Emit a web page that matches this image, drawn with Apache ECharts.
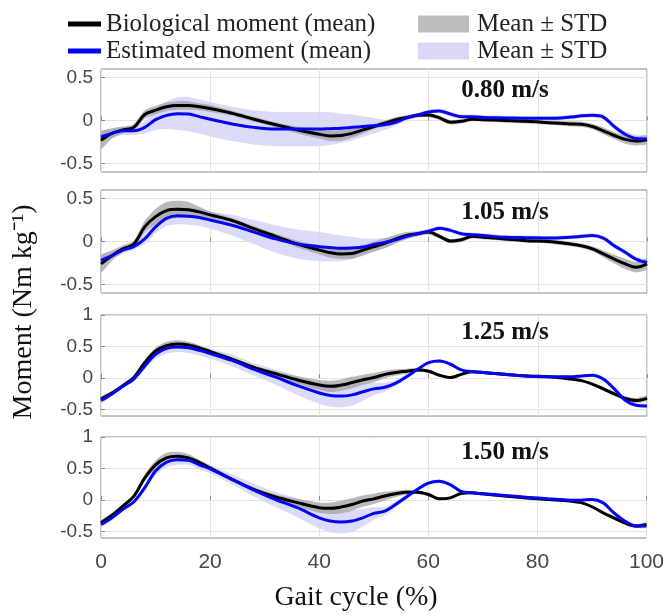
<!DOCTYPE html>
<html>
<head>
<meta charset="utf-8">
<script src="https://cdn.jsdelivr.net/npm/echarts@6/dist/echarts.min.js"></script>
<style>html,body{margin:0;padding:0;background:#fff;}#c{width:667px;height:616px;}</style>
</head>
<body>
<div id="c"></div>
<script>
// Gait cycle (%) sample positions
const xs = [0,2,4,6,8,10,12,14,16,18,20,24,28,32,36,40,42,44,46,48,50,52,54,56,58,60,62,64,66,68,70,74,78,82,86,88,90,92,94,96,98,100];

const speeds = ['0.80 m/s', '1.05 m/s', '1.25 m/s', '1.50 m/s'];
const xTicks = [0, 20, 40, 60, 80, 100];
const yTicksSmall = [-0.5, 0, 0.5];
const yTicksLarge = [-0.5, 0, 0.5, 1];

// 0.80 m/s
const bio1 = [-0.23,-0.15,-0.11,-0.08,0.07,0.12,0.16,0.175,0.175,0.16,0.14,0.085,0.015,-0.05,-0.11,-0.16,-0.18,-0.175,-0.15,-0.11,-0.07,-0.03,0.01,0.035,0.06,0.065,0.03,-0.02,-0.01,0.015,0.01,0,-0.01,-0.025,-0.04,-0.045,-0.07,-0.12,-0.175,-0.22,-0.24,-0.225];
const est1 = [-0.19,-0.15,-0.12,-0.12,-0.08,0.01,0.06,0.08,0.075,0.045,0.015,-0.04,-0.08,-0.10,-0.10,-0.10,-0.095,-0.09,-0.08,-0.07,-0.06,-0.05,-0.02,0.03,0.065,0.10,0.11,0.075,0.045,0.045,0.035,0.03,0.025,0.025,0.04,0.055,0.06,0.04,-0.07,-0.16,-0.21,-0.215];
const bioStd1 = [0.10,0.06,0.04,0.04,0.05,0.05,0.05,0.05,0.05,0.04,0.04,0.03,0.03,0.03,0.04,0.05,0.06,0.06,0.05,0.04,0.03,0.03,0.03,0.025,0.025,0.025,0.025,0.025,0.025,0.025,0.025,0.025,0.025,0.025,0.03,0.03,0.03,0.04,0.04,0.05,0.05,0.05];
const estStd1 = [0.05,0.05,0.05,0.05,0.07,0.12,0.16,0.19,0.20,0.20,0.20,0.20,0.20,0.20,0.20,0.20,0.19,0.17,0.15,0.12,0.09,0.06,0.04,0.03,0.025,0.025,0.025,0.025,0.025,0.025,0.025,0.025,0.025,0.025,0.025,0.025,0.025,0.03,0.03,0.04,0.04,0.04];

// 1.05 m/s
const bio2 = [-0.26,-0.165,-0.085,-0.03,0.17,0.29,0.36,0.375,0.37,0.345,0.31,0.245,0.15,0.06,-0.03,-0.10,-0.13,-0.145,-0.14,-0.10,-0.06,-0.02,0.03,0.07,0.09,0.11,0.06,0.005,0.02,0.06,0.05,0.03,0.01,0,-0.03,-0.05,-0.085,-0.145,-0.205,-0.26,-0.30,-0.26];
const est2 = [-0.22,-0.165,-0.10,-0.06,0.03,0.17,0.27,0.30,0.295,0.28,0.25,0.19,0.11,0.03,-0.03,-0.06,-0.07,-0.08,-0.075,-0.065,-0.035,-0.01,0.02,0.06,0.09,0.12,0.155,0.13,0.09,0.08,0.07,0.05,0.045,0.04,0.05,0.06,0.07,0.04,-0.05,-0.125,-0.205,-0.245];
const bioStd2 = [0.10,0.06,0.04,0.04,0.07,0.09,0.10,0.10,0.09,0.06,0.04,0.03,0.03,0.03,0.04,0.05,0.06,0.06,0.06,0.06,0.06,0.06,0.05,0.04,0.03,0.03,0.025,0.025,0.025,0.025,0.025,0.025,0.025,0.025,0.025,0.025,0.03,0.04,0.05,0.06,0.06,0.06];
const estStd2 = [0.05,0.04,0.04,0.04,0.06,0.08,0.09,0.10,0.10,0.10,0.10,0.12,0.14,0.16,0.17,0.17,0.16,0.15,0.13,0.10,0.07,0.05,0.04,0.03,0.025,0.025,0.025,0.025,0.025,0.025,0.025,0.025,0.025,0.025,0.025,0.025,0.025,0.025,0.03,0.03,0.03,0.03];

// 1.25 m/s
const bio3 = [-0.33,-0.235,-0.12,0.01,0.245,0.43,0.515,0.54,0.525,0.48,0.42,0.30,0.17,0.07,-0.03,-0.11,-0.13,-0.11,-0.07,-0.025,0.01,0.06,0.09,0.11,0.13,0.11,0.045,0.01,0.06,0.10,0.09,0.06,0.035,0.02,-0.015,-0.04,-0.095,-0.17,-0.25,-0.32,-0.355,-0.32];
const est3 = [-0.355,-0.25,-0.13,-0.015,0.19,0.375,0.47,0.495,0.48,0.44,0.39,0.28,0.14,0.015,-0.12,-0.235,-0.275,-0.285,-0.265,-0.215,-0.17,-0.145,-0.08,0.025,0.14,0.245,0.27,0.22,0.13,0.10,0.09,0.06,0.035,0.02,0.02,0.035,0.045,-0.015,-0.17,-0.35,-0.43,-0.44];
const bioStd3 = [0.04,0.03,0.03,0.03,0.04,0.05,0.06,0.06,0.05,0.04,0.03,0.03,0.03,0.04,0.06,0.08,0.09,0.09,0.09,0.08,0.07,0.06,0.05,0.04,0.03,0.025,0.02,0.02,0.02,0.02,0.02,0.02,0.02,0.02,0.02,0.02,0.02,0.03,0.03,0.03,0.04,0.04];
const estStd3 = [0.04,0.03,0.03,0.03,0.05,0.07,0.08,0.08,0.08,0.08,0.08,0.09,0.10,0.12,0.15,0.17,0.18,0.18,0.17,0.14,0.10,0.07,0.05,0.04,0.03,0.025,0.025,0.02,0.02,0.02,0.02,0.02,0.02,0.02,0.02,0.02,0.02,0.025,0.03,0.03,0.03,0.03];

// 1.50 m/s
const bio4 = [-0.36,-0.24,-0.095,0.06,0.35,0.56,0.67,0.695,0.67,0.60,0.51,0.33,0.17,0.05,-0.04,-0.12,-0.13,-0.11,-0.07,-0.015,0.02,0.065,0.10,0.125,0.125,0.09,0.02,0.035,0.105,0.115,0.10,0.065,0.035,0.01,-0.015,-0.04,-0.105,-0.20,-0.28,-0.36,-0.41,-0.385];
const est4 = [-0.385,-0.28,-0.145,-0.03,0.195,0.46,0.60,0.64,0.63,0.56,0.495,0.33,0.16,0.01,-0.12,-0.28,-0.33,-0.345,-0.33,-0.28,-0.21,-0.175,-0.07,0.05,0.17,0.27,0.30,0.245,0.14,0.115,0.10,0.075,0.045,0.02,0,0,0.01,-0.04,-0.20,-0.33,-0.41,-0.41];
const bioStd4 = [0.04,0.03,0.03,0.03,0.05,0.07,0.08,0.07,0.06,0.04,0.03,0.03,0.03,0.04,0.06,0.08,0.09,0.10,0.10,0.09,0.08,0.07,0.05,0.04,0.03,0.025,0.02,0.02,0.02,0.02,0.02,0.02,0.02,0.02,0.02,0.02,0.02,0.03,0.03,0.03,0.03,0.03];
const estStd4 = [0.04,0.03,0.03,0.03,0.05,0.07,0.08,0.08,0.07,0.07,0.07,0.08,0.10,0.12,0.15,0.17,0.18,0.18,0.17,0.14,0.10,0.07,0.05,0.04,0.03,0.025,0.025,0.02,0.02,0.02,0.02,0.02,0.02,0.02,0.02,0.02,0.02,0.025,0.03,0.03,0.03,0.03];

const panels = [
  {bio: bio1, est: est1, bioStd: bioStd1, estStd: estStd1, yMin: -0.6, yMax: 0.6, ticks: yTicksSmall},
  {bio: bio2, est: est2, bioStd: bioStd2, estStd: estStd2, yMin: -0.6, yMax: 0.6, ticks: yTicksSmall},
  {bio: bio3, est: est3, bioStd: bioStd3, estStd: estStd3, yMin: -0.6, yMax: 1, ticks: yTicksLarge},
  {bio: bio4, est: est4, bioStd: bioStd4, estStd: estStd4, yMin: -0.6, yMax: 1, ticks: yTicksLarge}
];

// layout (pixels)
const gridLayout = [
  {top: 69, height: 103},
  {top: 190, height: 103},
  {top: 315, height: 101},
  {top: 437, height: 101}
];
const labelY = [91, 213, 333, 453];

const BLACK = '#000000';
const BLUE = '#0505f2';
const GREY_BAND = 'rgba(160,160,160,0.72)';
const BLUE_BAND = 'rgba(214,214,248,0.9)';
const SMOOTH = 0.35;
const SERIF = '"Liberation Serif","Times New Roman",serif';
const SANS = '"Liberation Sans",Arial,Helvetica,sans-serif';

const grids = [], xAxes = [], yAxes = [], series = [], graphics = [];

function bandSeries(i, mean, std, color, name) {
  // rows: [x, lower, upper]
  const rows = mean.map((m, k) => [xs[k], +(m - std[k]).toFixed(4), +(m + std[k]).toFixed(4)]);
  return {
    type: 'custom', name: name, xAxisIndex: i, yAxisIndex: i, data: rows,
    encode: {x: 0, y: [1, 2]}, silent: true, clip: true,
    itemStyle: {color: color},
    renderItem: function (params, api) {
      if (params.dataIndexInside !== 0) return null;
      const n = params.dataInsideLength;
      const up = [], lo = [];
      for (let k = 0; k < n; k++) {
        const x = api.value(0, k);
        lo.push(api.coord([x, api.value(1, k)]));
        up.push(api.coord([x, api.value(2, k)]));
      }
      const pts = up.concat(lo.reverse());
      return {
        type: 'polygon',
        shape: {points: pts, smooth: 0.25},
        style: {fill: color, stroke: null}
      };
    }
  };
}

panels.forEach((p, i) => {
  grids.push({left: 101, width: 546, top: gridLayout[i].top, height: gridLayout[i].height,
    show: true, borderColor: '#8a8a8a', borderWidth: 1, backgroundColor: '#fff', containLabel: false});
  xAxes.push({
    type: 'value', gridIndex: i, min: 0, max: 100, interval: 20,
    axisLine: {show: false},
    axisTick: {show: true, inside: true, length: 4, lineStyle: {color: '#8a8a8a'}},
    axisLabel: {show: i === 3, fontFamily: SANS, fontSize: 21, color: '#474747', margin: 14},
    splitLine: {show: true, lineStyle: {color: '#e3e3e3', width: 1}}
  });
  yAxes.push({
    type: 'value', gridIndex: i, min: p.yMin, max: p.yMax,
    axisLine: {show: false},
    axisTick: {show: true, inside: true, length: 4, customValues: p.ticks, lineStyle: {color: '#8a8a8a'}},
    axisLabel: {show: true, customValues: p.ticks, fontFamily: SANS, fontSize: 19, color: '#474747', margin: 8,
      formatter: v => String(v)},
    splitLine: {show: true, lineStyle: {color: '#e3e3e3', width: 1}}
  });

  series.push(bandSeries(i, p.est, p.estStd, BLUE_BAND, 'estSTD'));
  series.push(bandSeries(i, p.bio, p.bioStd, GREY_BAND, 'bioSTD'));

  series.push({
    type: 'line', name: 'Biological moment (mean)', xAxisIndex: i, yAxisIndex: i,
    data: p.bio.map((v, k) => [xs[k], v]), showSymbol: false, symbol: 'none', smooth: SMOOTH,
    lineStyle: {color: BLACK, width: 3}, itemStyle: {color: BLACK}, z: 5
  });
  series.push({
    type: 'line', name: 'Estimated moment (mean)', xAxisIndex: i, yAxisIndex: i,
    data: p.est.map((v, k) => [xs[k], v]), showSymbol: false, symbol: 'none', smooth: SMOOTH,
    lineStyle: {color: BLUE, width: 3}, itemStyle: {color: BLUE}, z: 6
  });

  graphics.push({
    type: 'text', x: 505, y: labelY[i], z: 100,
    style: {text: speeds[i], font: 'bold 25px ' + SERIF, fill: '#111', textAlign: 'center', textVerticalAlign: 'middle'}
  });
});

graphics.push({
  type: 'text', x: 24, y: 312, rotation: Math.PI / 2, z: 100,
  style: {text: 'Moment (Nm kg⁻¹)', font: '28px ' + SERIF, fill: '#111', textAlign: 'center', textVerticalAlign: 'middle'}
});
graphics.push({
  type: 'text', x: 356, y: 598, z: 100,
  style: {text: 'Gait cycle (%)', font: '28px ' + SERIF, fill: '#111', textAlign: 'center', textVerticalAlign: 'middle'}
});

const option = {
  animation: false,
  backgroundColor: '#fff',
  grid: grids,
  xAxis: xAxes,
  yAxis: yAxes,
  series: series,
  graphic: graphics,
  legend: [
    {
      orient: 'vertical', left: 63, top: 6, icon: 'rect', itemWidth: 33, itemHeight: 5, itemGap: 1,
      selectedMode: false,
      textStyle: {fontFamily: SERIF, fontSize: 25, color: '#222', lineHeight: 26, padding: [0, 0, 0, 0]},
      data: [
        {name: 'Biological moment (mean)', itemStyle: {color: BLACK}},
        {name: 'Estimated moment (mean)', itemStyle: {color: BLUE}}
      ]
    },
    {
      orient: 'vertical', left: 413, top: 6, icon: 'rect', itemWidth: 51, itemHeight: 17, itemGap: 1,
      selectedMode: false,
      formatter: () => 'Mean ± STD',
      textStyle: {fontFamily: SERIF, fontSize: 25, color: '#222', lineHeight: 26, padding: [0, 0, 0, 3]},
      data: [
        {name: 'bioSTD', itemStyle: {color: '#bdbdbd', opacity: 1}},
        {name: 'estSTD', itemStyle: {color: '#d8d8f6', opacity: 1}}
      ]
    }
  ]
};

const chart = echarts.init(document.getElementById('c'), null, {renderer: 'canvas'});
chart.setOption(option);
</script>
</body>
</html>
